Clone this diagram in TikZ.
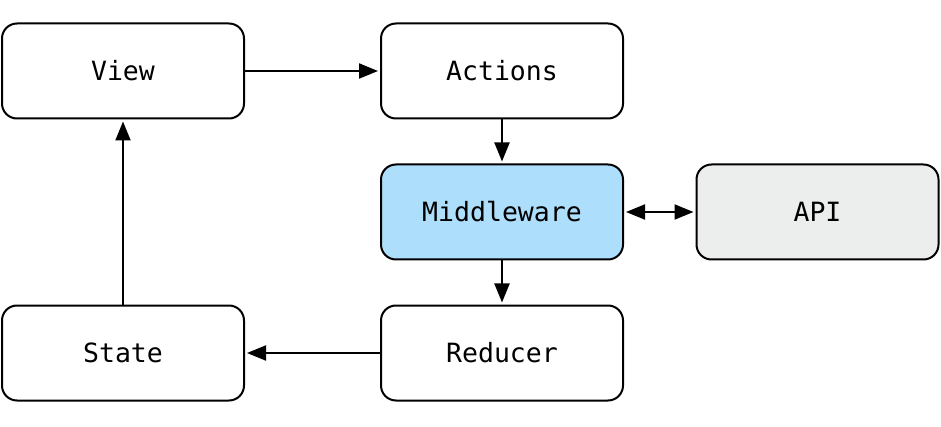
\documentclass[tikz,border=0pt]{standalone}
\usepackage{fontspec}
\setmonofont{DejaVu Sans Mono}
\usetikzlibrary{arrows.meta}
\definecolor{mwblue}{HTML}{ADDFFD}
\definecolor{apigray}{HTML}{ECEEED}
\begin{document}
\begin{tikzpicture}[x=1pt,y=-1pt,
  box/.style={draw=black,line width=2pt,rounded corners=15pt,fill=white,
    minimum width=242pt,minimum height=95pt,inner sep=0pt,
    font=\ttfamily\fontsize{26.5}{30}\selectfont},
  conn/.style={line width=2pt,-{Triangle[length=19pt,width=15pt]}},
  conn2/.style={line width=2pt,{Triangle[length=19pt,width=15pt]}-{Triangle[length=19pt,width=15pt]}}]
\useasboundingbox (0,0) rectangle (941,427);
\node[box] (view) at (123,71) {View};
\node[box] (actions) at (502,71) {Actions};
\node[box,fill=mwblue] (mw) at (502,212) {Middleware};
\node[box,fill=apigray] (api) at (817.5,212) {API};
\node[box] (state) at (123,353) {State};
\node[box] (reducer) at (502,353) {Reducer};
\draw[conn,shorten >=2pt] (view) -- (actions);
\draw[conn,shorten >=2pt] (actions) -- (mw);
\draw[conn2,shorten >=2pt,shorten <=2pt] (mw) -- (api);
\draw[conn,shorten >=2pt] (mw) -- (reducer);
\draw[conn,shorten >=2pt] (reducer) -- (state);
\draw[conn,shorten >=2pt] (state) -- (view);
\end{tikzpicture}
\end{document}
